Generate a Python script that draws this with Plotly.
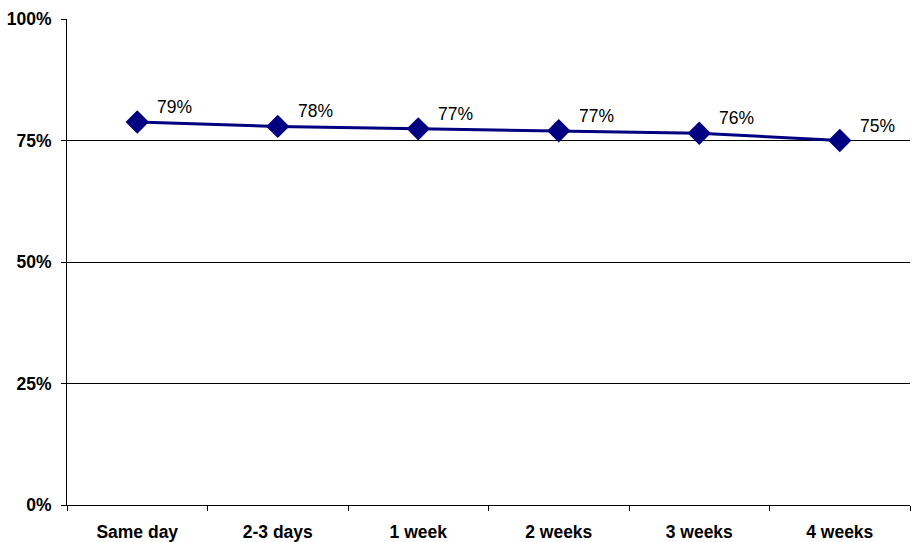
import plotly.graph_objects as go

# Share of respondents by time elapsed
categories = ["Same day", "2-3 days", "1 week", "2 weeks", "3 weeks", "4 weeks"]
shares = [0.788, 0.779, 0.774, 0.770, 0.765, 0.750]
y_ticks = [0, 0.25, 0.5, 0.75, 1.0]
y_tick_labels = ["0%", "25%", "50%", "75%", "100%"]

NAVY = "#000080"
FONT = "Liberation Sans, Arial, sans-serif"

fig = go.Figure()
fig.add_trace(go.Scatter(
    x=list(range(len(categories))),
    y=shares,
    mode="lines+markers",
    line=dict(color=NAVY, width=3),
    marker=dict(symbol="diamond", size=18, color=NAVY),
    hoverinfo="skip",
))

# value labels up and to the right of each marker
for i, v in enumerate(shares):
    fig.add_annotation(
        x=i, y=v, text=f"{round(v * 100):d}%",
        showarrow=False, xanchor="left", yanchor="middle",
        xshift=18, yshift=15,
        font=dict(family=FONT, size=17.5, color="#000000"),
    )

fig.update_layout(
    width=915, height=542,
    margin=dict(l=67, r=5, t=19, b=37),
    paper_bgcolor="white", plot_bgcolor="white",
    showlegend=False,
    font=dict(family=FONT, color="#000000"),
)
fig.update_xaxes(
    range=[-0.5, len(categories) - 0.5],
    tickmode="array",
    tickvals=list(range(len(categories))),
    ticktext=[f"<b>{c}</b>" for c in categories],
    tickfont=dict(family=FONT, size=17.5),
    showgrid=False, zeroline=False,
    showline=True, linecolor="#000000", linewidth=1,
    ticks="", fixedrange=True,
    ticklabelstandoff=11,
    automargin=False,
)
# boundary tick marks between categories
fig.update_xaxes(
    minor=dict(tickmode="array",
               tickvals=[i - 0.5 for i in range(len(categories) + 1)],
               ticks="outside", ticklen=5, tickcolor="#000000", showgrid=False),
)
fig.update_yaxes(
    range=[0, 1.0],
    tickmode="array", tickvals=y_ticks,
    ticktext=[f"<b>{t}</b>" for t in y_tick_labels],
    tickfont=dict(family=FONT, size=17.5),
    showgrid=True, gridcolor="#000000", gridwidth=1,
    zeroline=False,
    showline=True, linecolor="#000000", linewidth=1,
    ticks="outside", ticklen=5, tickcolor="#000000",
    ticklabelstandoff=6,
    automargin=False,
    fixedrange=True,
)

fig.write_html("out.html")
